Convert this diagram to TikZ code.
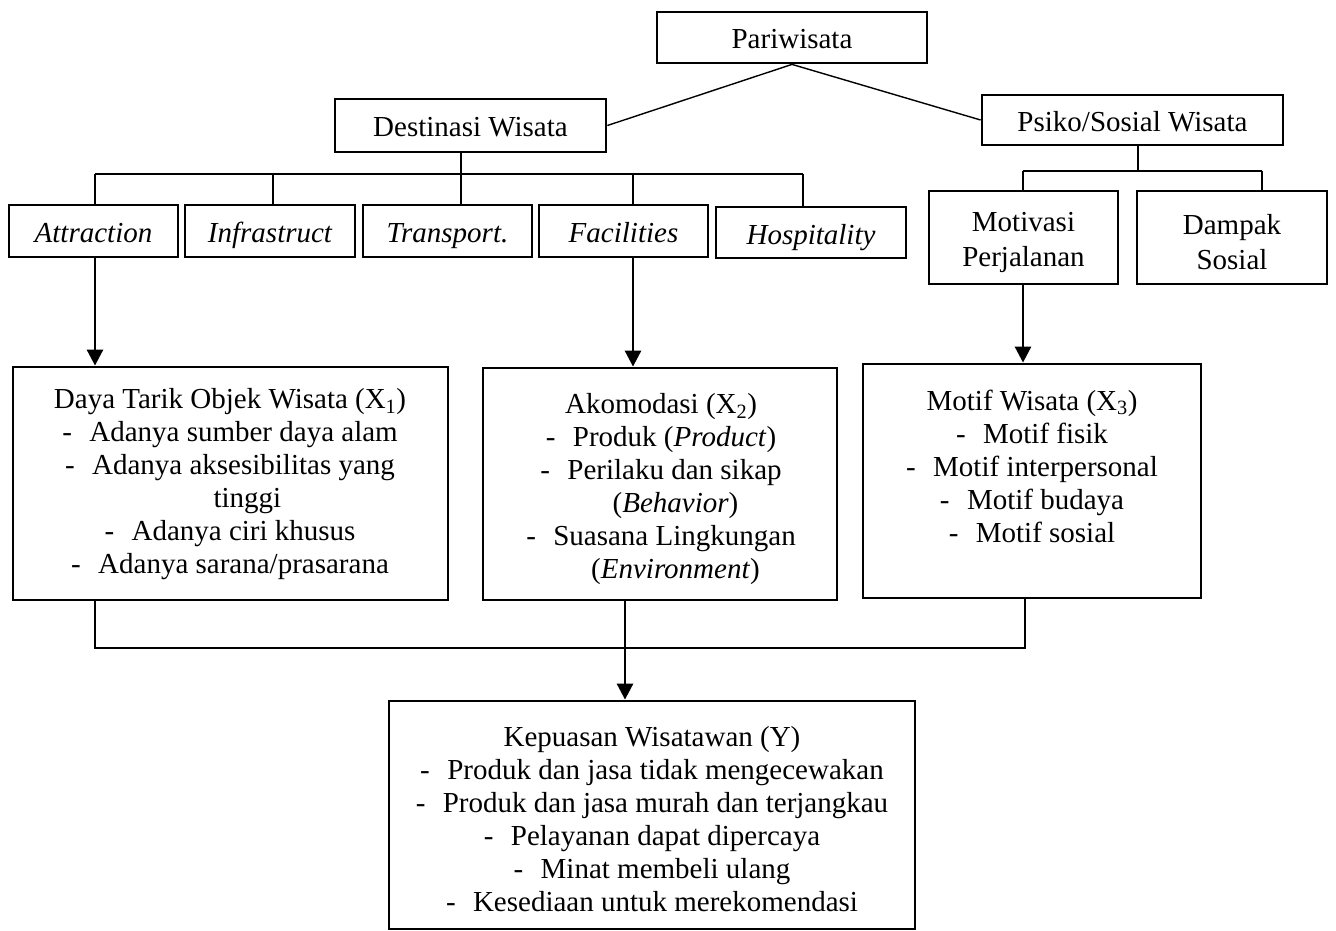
\documentclass[tikz,border=0pt]{standalone}
\usepackage{fontspec}
\setmainfont{Liberation Serif}
\usetikzlibrary{arrows.meta}
\newcommand\dsh{-\hspace{0.6em}}
\begin{document}
\begin{tikzpicture}[x=1pt,y=-1pt,
  bx/.style 2 args={draw, line width=2.8pt, minimum width=#1, minimum height=#2, inner sep=0pt, font=\fontsize{29}{33}\selectfont},
  one/.style={text height=23pt, text depth=0pt},
  txt/.style={inner sep=0pt, font=\fontsize{29}{33}\selectfont, align=center},
  tree/.style={line width=1.4pt},
  arr/.style={line width=2.8pt, -{Triangle[width=16pt,length=16pt]}}]
\useasboundingbox (0,0) rectangle (1336,931);

% top level
\node[bx={270pt}{51pt}, one] (par) at (792,37.5) {Pariwisata};
\node[bx={271pt}{53pt}, one] (dest) at (470.5,125.5) {Destinasi Wisata};
\node[bx={301pt}{50pt}, one] (psiko) at (1132.5,120) {Psiko/Sosial Wisata};

% row of components
\node[bx={169pt}{52pt}, one] (attr) at (93.5,231) {\itshape Attraction};
\node[bx={170pt}{52pt}, one] (infr) at (270,231) {\itshape Infrastruct};
\node[bx={169pt}{52pt}, one] (trans) at (447.5,231) {\itshape Transport.};
\node[bx={169pt}{52pt}, one] (faci) at (623.5,231) {\itshape Facilities};
\node[bx={190pt}{51pt}, one] (hosp) at (811,232.5) {\itshape Hospitality};
\node[bx={189pt}{93pt}] (moti) at (1023.5,237.5) {};
\node[bx={190pt}{93pt}] (damp) at (1232,237.5) {};
\node[txt] (motit) at (1023.5,242) {Motivasi\\[2pt]Perjalanan};
\node[txt] (dampt) at (1232,242) {Dampak\\[2pt]Sosial};

% variable boxes
\node[bx={435pt}{233pt}] (daya) at (230.5,483.5) {};
\node[bx={354pt}{232pt}] (akom) at (660,484) {};
\node[bx={338pt}{234pt}] (motif) at (1032,481) {};
\node[bx={526pt}{228pt}] (kep) at (652,815) {};

\node[txt] (dayat) at (230,484) {Daya Tarik Objek Wisata (X\textsubscript{1})\\
\dsh Adanya sumber daya alam\\
\dsh Adanya aksesibilitas yang\\
\hspace{1.2em}tinggi\\
\dsh Adanya ciri khusus\\
\dsh Adanya sarana/prasarana};

\node[txt] (akomt) at (661,489) {Akomodasi (X\textsubscript{2})\\
\dsh Produk (\textit{Product})\\
\dsh Perilaku dan sikap\\
\hspace{1em}(\textit{Behavior})\\
\dsh Suasana Lingkungan\\
\hspace{1em}(\textit{Environment})};

\node[txt] (motift) at (1032,466) {Motif Wisata (X\textsubscript{3})\\
\dsh Motif fisik\\
\dsh Motif interpersonal\\
\dsh Motif budaya\\
\dsh Motif sosial};

\node[txt] (kept) at (652,819) {Kepuasan Wisatawan (Y)\\
\dsh Produk dan jasa tidak mengecewakan\\
\dsh Produk dan jasa murah dan terjangkau\\
\dsh Pelayanan dapat dipercaya\\
\dsh Minat membeli ulang\\
\dsh Kesediaan untuk merekomendasi};

% connectors from Pariwisata
\draw[tree] (par.south) -- (dest.east);
\draw[tree] (par.south) -- (psiko.west);

% destinasi tree
\coordinate (dbus) at (461,174);
\draw[tree] (dest.south -| dbus) -- (dbus);
\draw[tree] (95,174) -- (803,174);
\foreach \x/\n in {95/attr,273/infr,461/trans,633/faci,803/hosp}
  \draw[tree] (\x,174) -- (\n.north -| \x,0);

% psiko tree
\coordinate (pbus) at (1138,171);
\draw[tree] (psiko.south -| pbus) -- (pbus);
\draw[tree] (1023,171) -- (1262,171);
\draw[tree] (1023,171) -- (moti.north -| 1023,0);
\draw[tree] (1262,171) -- (damp.north -| 1262,0);

% arrows down
\draw[arr] (attr.south -| 95,0) -- (daya.north -| 95,0);
\draw[arr] (faci.south -| 633,0) -- (akom.north -| 633,0);
\draw[arr] (moti.south -| 1023,0) -- (motif.north -| 1023,0);
\draw[arr] (akom.south -| 625,0) -- (kep.north -| 625,0);

% joining line
\draw[tree] (daya.south -| 95,0) |- (1025,648) -- (motif.south -| 1025,0);
\end{tikzpicture}
\end{document}
